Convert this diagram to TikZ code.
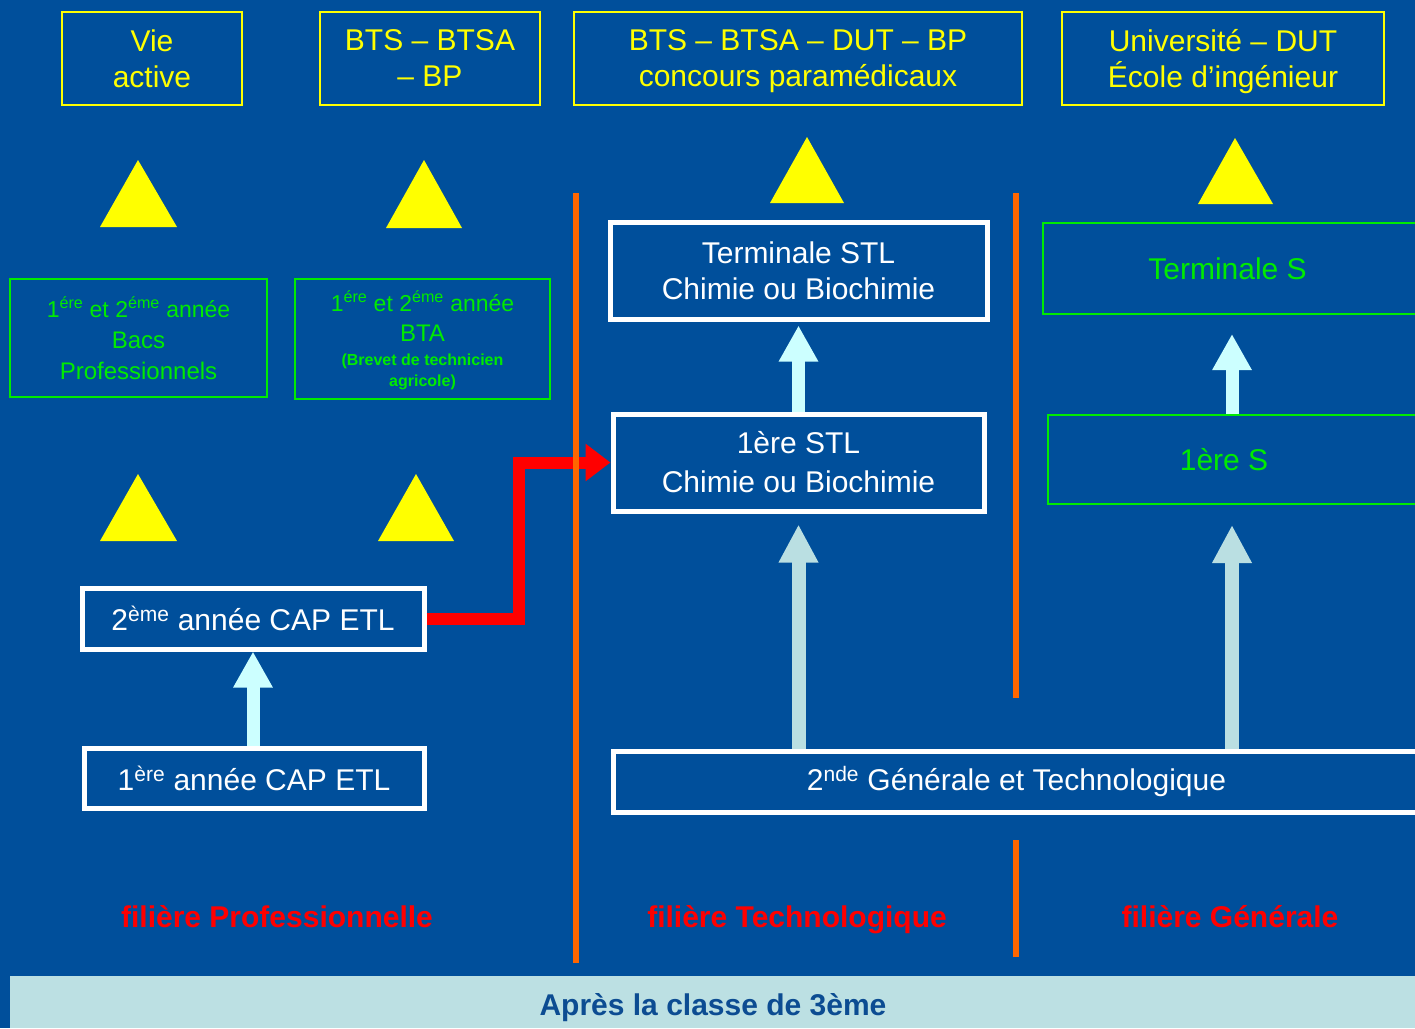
\documentclass[tikz,border=0pt]{standalone}
\usepackage{fontspec}
\setmainfont{Liberation Sans}
\usetikzlibrary{arrows.meta}
\definecolor{bgblue}{RGB}{0,79,155}
\definecolor{yelc}{RGB}{255,255,0}
\definecolor{grnc}{RGB}{0,235,0}
\definecolor{orgc}{RGB}{255,102,0}
\definecolor{bandc}{RGB}{188,224,227}
\definecolor{bandtxt}{RGB}{12,76,146}
\definecolor{arrc}{RGB}{204,255,255}
\definecolor{arrcb}{RGB}{186,223,226}
\newcommand{\fsz}[2]{\fontsize{#1}{#2}\selectfont}
\begin{document}
\begin{tikzpicture}[x=1pt,y=-1pt,
  ybox/.style={draw=yelc, line width=2pt, text=yelc, align=center, inner sep=0pt, font=\fsz{30}{36}},
  gbox/.style={draw=grnc, line width=2pt, text=grnc, align=center, inner sep=0pt},
  wbox/.style={draw=white, line width=5pt, text=white, align=center, inner sep=0pt, font=\fsz{30}{36}},
  tri/.style={fill=yelc},
  uparrow/.style={draw=arrc, line width=13pt, -{Triangle[width=37pt,length=36pt]}},
  lowarrow/.style={draw=arrcb, line width=14pt, -{Triangle[width=37pt,length=38pt]}},
  redarrow/.style={draw=red, line width=12pt, line join=miter, -{Triangle[width=36pt,length=25pt]}},
  sepline/.style={draw=orgc, line width=6pt},
  lbl/.style={text=red, font=\fsz{30}{36}\bfseries, inner sep=0pt, anchor=base}
]
\useasboundingbox (0,0) rectangle (1415,1028);
\fill[bgblue] (0,0) rectangle (1415,1028);

% top destination boxes
\node[ybox, minimum width=180pt, minimum height=93pt] (va) at (152,58.5) {Vie\\active};
\node[ybox, minimum width=220pt, minimum height=93pt] (bts) at (430,58.5) {BTS – BTSA\\– BP};
\node[ybox, minimum width=448pt, minimum height=93pt, text depth=0pt] (btsd) at (798,58.5) {BTS – BTSA – DUT – BP\\concours paramédicaux};
\node[ybox, minimum width=322pt, minimum height=93pt, text depth=0pt] (univ) at (1223,58.5) {Université – DUT\\École d'ingénieur};

% yellow triangles
\fill[tri] (100,227) -- (138,160) -- (177,227) -- cycle;
\fill[tri] (386,228) -- (424,160) -- (462,228) -- cycle;
\fill[tri] (770,203) -- (807,137) -- (844,203) -- cycle;
\fill[tri] (1198,204) -- (1235,138) -- (1273,204) -- cycle;
\fill[tri] (100,541) -- (138,474) -- (177,541) -- cycle;
\fill[tri] (378,541) -- (416,474) -- (454,541) -- cycle;

% green boxes (professional)
\node[gbox, minimum width=257pt, minimum height=118pt, font=\fsz{24}{31}] (bacs) at (138.5,338)
  {{\fsz{23}{31}1\textsuperscript{ére} et 2\textsuperscript{éme} année}\\Bacs\\Professionnels};
\node[gbox, minimum width=255pt, minimum height=120pt, font=\fsz{24}{30}, text depth=0pt] (bta) at (422.5,339)
  {{\fsz{23}{30}1\textsuperscript{ére} et 2\textsuperscript{éme} année}\\BTA\\[-6pt]
   {\fsz{16}{20}\bfseries (Brevet de technicien}\\[-9pt]{\fsz{16}{20}\bfseries agricole)}};

% white boxes
\node[wbox, minimum width=377pt, minimum height=97pt] (tstl) at (798.5,270.5) {Terminale STL\\Chimie ou Biochimie};
\node[wbox, minimum width=371pt, minimum height=97pt, font=\fsz{30}{39}] (stl1) at (798.5,462.5) {1ère STL\\Chimie ou Biochimie};
\node[wbox, minimum width=342pt, minimum height=61pt] (cap2) at (253,618.5) {2\textsuperscript{ème} année CAP ETL};
\node[wbox, minimum width=340pt, minimum height=60pt] (cap1) at (254,778) {1\textsuperscript{ère} année CAP ETL};
\node[wbox, minimum width=807pt, minimum height=61pt] (gt) at (1016.5,781.5) {2\textsuperscript{nde} Générale et Technologique};

% green boxes (general)
\node[gbox, minimum width=377pt, minimum height=91pt, font=\fsz{30}{36}] (ts) at (1231.5,268.5) {Terminale S\hspace*{8pt}};
\node[gbox, minimum width=372pt, minimum height=89pt, font=\fsz{30}{36}] (s1) at (1234,459.5) {1ère S\hspace*{20pt}};

% arrows
\coordinate (sx) at (1232,0);
\coordinate (tstlb) at ([yshift=-4pt]tstl.south);
\coordinate (tsb) at ([yshift=-19pt]ts.south);
\coordinate (stl1b) at ([yshift=-11pt]stl1.south);
\coordinate (s1b) at ([yshift=-20pt]s1.south);
\draw[uparrow] (cap1.north -| cap2.south) -- (cap2.south);
\draw[uparrow] (stl1.north) -- (tstlb);
\draw[uparrow] (s1.north -| sx) -- (tsb -| sx);
\draw[lowarrow] (gt.north -| stl1b) -- (stl1b);
\draw[lowarrow] (gt.north -| sx) -- (s1b -| sx);

\coordinate (bend) at (519,540);
\draw[redarrow] (cap2.east) -| (bend) |- (stl1.west);

% separators
\draw[sepline] (576,193) -- (576,963);
\draw[sepline] (1016,193) -- (1016,698);
\draw[sepline] (1016,840) -- (1016,957);

% stream labels
\node[lbl] (lp) at (277,927) {filière Professionnelle};
\node[lbl] (lt) at (797,927) {filière Technologique};
\node[lbl] (lg) at (1230,927) {filière Générale};

% bottom band
\fill[bandc] (10,976) rectangle (1415,1028);
\node[text=bandtxt, font=\fsz{30}{36}\bfseries, inner sep=0pt, anchor=base] (band) at (713,1015) {Après la classe de 3ème};
\end{tikzpicture}
\end{document}
